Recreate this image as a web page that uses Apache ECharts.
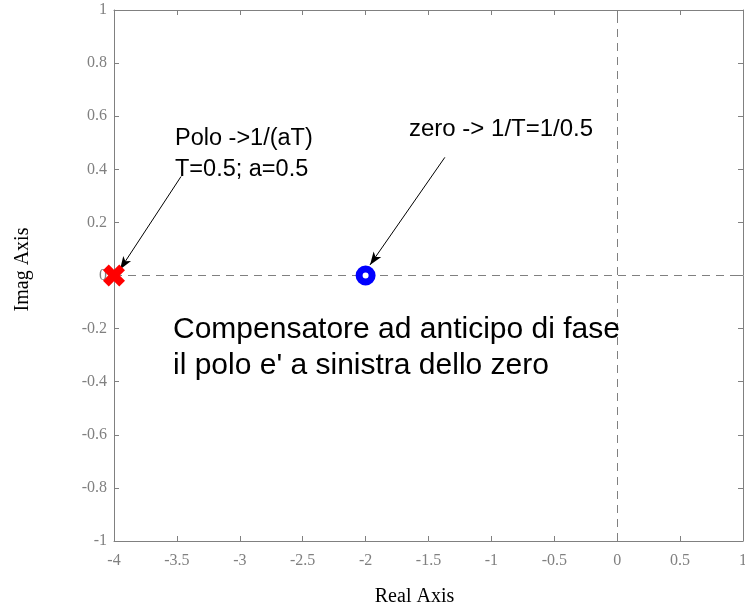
<!DOCTYPE html>
<html>
<head>
<meta charset="utf-8">
<script src="https://cdn.jsdelivr.net/npm/echarts@6/dist/echarts.min.js"></script>
<style>html,body{margin:0;padding:0;background:#fff}#c{width:745px;height:608px}</style>
</head>
<body>
<div id="c"></div>
<script>
// Data
const poleX = [-4];
const poleY = [0];
const zeroX = [-2];
const zeroY = [0];
const xMin = -4, xMax = 1, xStep = 0.5;
const yMin = -1, yMax = 1, yStep = 0.2;
const xTitle = 'Real Axis';
const yTitle = 'Imag Axis';
// annotation arrows: [fromX, fromY, toX, toY] in data units
const arrowPole = [-3.467, 0.373, -3.952, 0.023];
const arrowZero = [-1.37, 0.445, -1.965, 0.04];
const poleText = ['Polo ->1/(aT)', 'T=0.5; a=0.5'];
const zeroText = ['zero -> 1/T=1/0.5'];
const mainText = ['Compensatore ad anticipo di fase', "il polo e' a sinistra dello zero"];

const gray = '#808080';
const serif = '"Liberation Serif", "DejaVu Serif", serif';
const sans = '"Liberation Sans", Arial, sans-serif';

const chart = echarts.init(document.getElementById('c'), null, {renderer: 'canvas'});

function axisCommon(extra) {
  return Object.assign({
    type: 'value',
    axisLine: {show: true, onZero: false, lineStyle: {color: gray, width: 1}},
    axisTick: {show: true, inside: true, length: 5, lineStyle: {color: gray}},
    splitLine: {show: false},
  }, extra);
}

const xPole = 'path://M2.6 0 L5 2.4 L7.4 0 L10 2.6 L7.6 5 L10 7.4 L7.4 10 L5 7.6 L2.6 10 L0 7.4 L2.4 5 L0 2.6 Z';

function arrowLine(a) {
  return [{coord: [a[0], a[1]], symbol: 'none'}, {coord: [a[2], a[3]], symbol: 'arrow', symbolSize: [7, 13]}];
}

chart.setOption({
  animation: false,
  grid: {left: 114, right: 2, top: 10, bottom: 67, containLabel: false, outerBoundsMode: 'none'},
  xAxis: [
    axisCommon({
      min: xMin, max: xMax, interval: xStep, position: 'bottom',
      axisLabel: {color: gray, fontFamily: serif, fontSize: 16, margin: 12},
      name: xTitle, nameLocation: 'middle', nameGap: 46,
      nameTextStyle: {color: '#000', fontFamily: serif, fontSize: 20, padding: [0, 28, 0, 0]}
    }),
    axisCommon({
      min: xMin, max: xMax, interval: xStep, position: 'top',
      axisLabel: {show: false}
    })
  ],
  yAxis: [
    axisCommon({
      min: yMin, max: yMax, interval: yStep, position: 'left',
      axisLabel: {color: gray, fontFamily: serif, fontSize: 16, margin: 7},
      name: yTitle, nameLocation: 'middle', nameGap: 81,
      nameTextStyle: {color: '#000', fontFamily: serif, fontSize: 20, padding: [0, 0, 0, 12]}
    }),
    axisCommon({
      min: yMin, max: yMax, interval: yStep, position: 'right',
      axisLabel: {show: false}
    })
  ],
  series: [
    {
      type: 'scatter', name: 'guides', data: [], silent: true,
      markLine: {
        silent: true, symbol: 'none', label: {show: false},
        lineStyle: {color: gray, type: [8, 6], width: 1},
        data: [{xAxis: 0}, {yAxis: 0}]
      }
    },
    {
      type: 'scatter', name: 'arrows', data: [], silent: true, z: 5,
      markLine: {
        silent: true, label: {show: false},
        lineStyle: {color: '#000', type: 'solid', width: 1, opacity: 1},
        itemStyle: {color: '#000'},
        data: [arrowLine(arrowPole), arrowLine(arrowZero)]
      }
    },
    {
      type: 'scatter', name: 'pole', z: 6,
      data: poleX.map((x, i) => [x, poleY[i]]),
      symbol: xPole, symbolSize: 22,
      itemStyle: {color: '#ff0000', opacity: 1}
    },
    {
      type: 'scatter', name: 'zero', z: 6,
      data: zeroX.map((x, i) => [x, zeroY[i]]),
      symbol: 'circle', symbolSize: 13,
      itemStyle: {color: '#ffffff', borderColor: '#0000ff', borderWidth: 7, opacity: 1}
    }
  ],
  graphic: [
    {type: 'text', left: 175, top: 123, z: 10, style: {text: poleText.join('\n'), font: '23.5px ' + sans, fill: '#000', lineHeight: 31}},
    {type: 'text', left: 409, top: 113, z: 10, style: {text: zeroText.join('\n'), font: '24px ' + sans, fill: '#000', lineHeight: 33}},
    {type: 'text', left: 173, top: 312, z: 10, style: {text: mainText.join('\n'), font: '30px ' + sans, fill: '#000', lineHeight: 36}}
  ]
});
</script>
</body>
</html>
